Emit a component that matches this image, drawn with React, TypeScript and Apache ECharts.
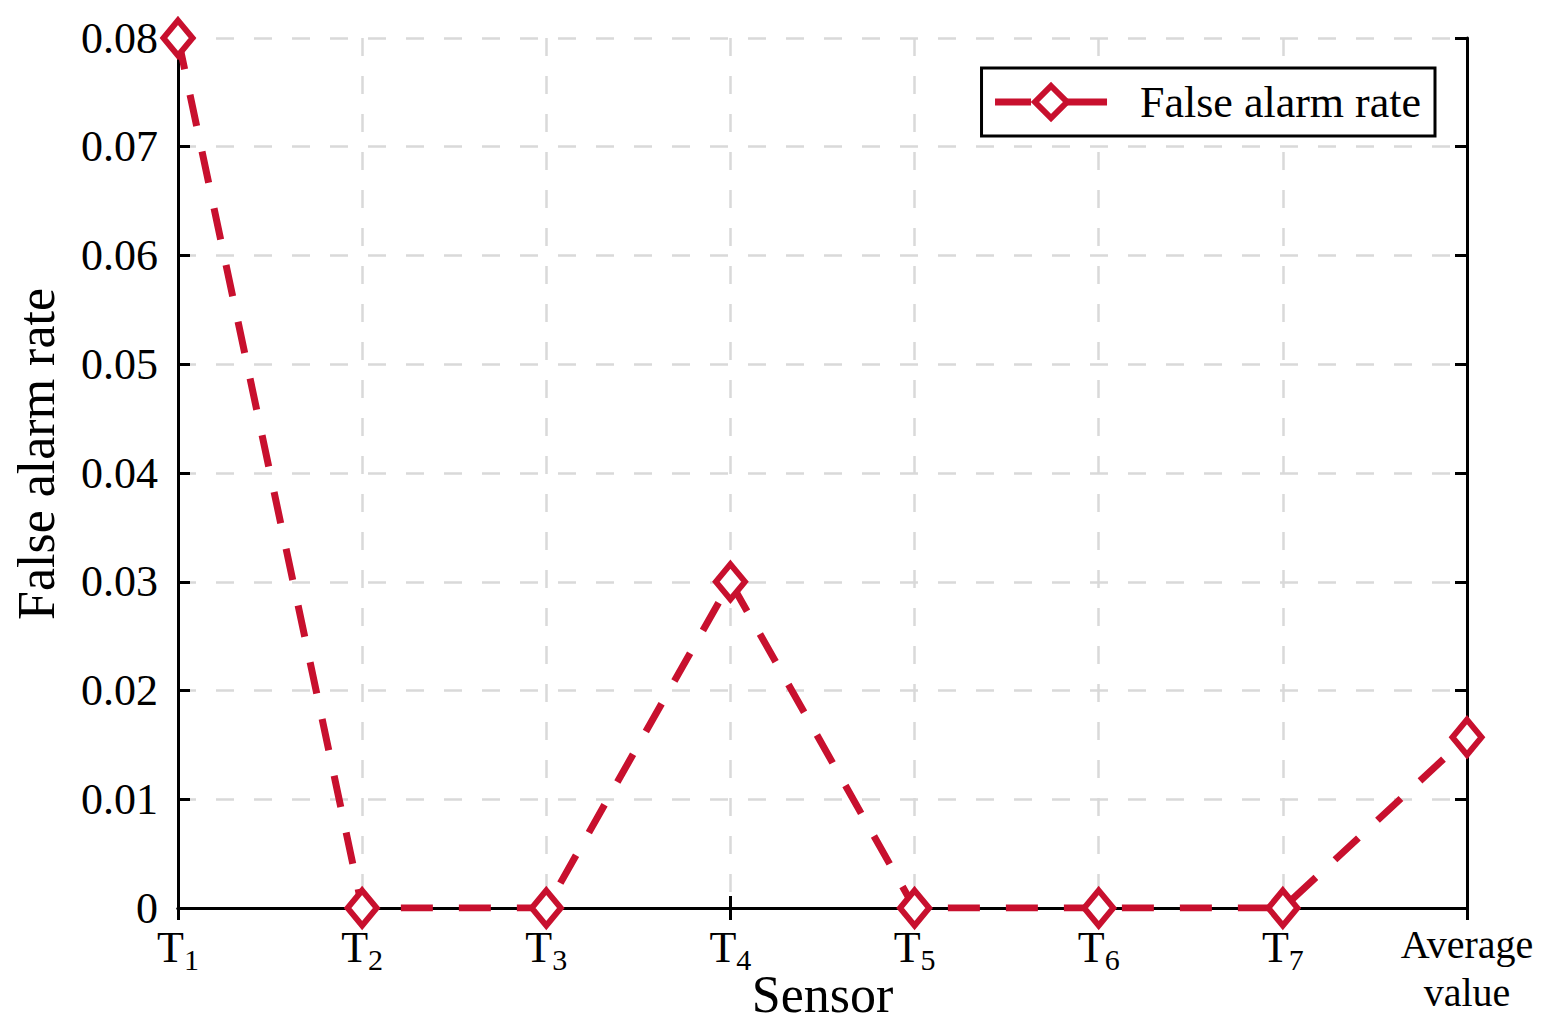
import React, { useEffect, useRef } from "react";
import * as echarts from "echarts";

const categories = ["T1", "T2", "T3", "T4", "T5", "T6", "T7", "Average value"];
const falseAlarmRate = [0.08, 0, 0, 0.03, 0, 0, 0, 0.0157];
const seriesName = "False alarm rate";

const FONT = "Liberation Serif";
const RED = "#C8102E";

function xLabel(v: string) {
  if (v.startsWith("T")) return `{t|T}{s|${v.slice(1)}}`;
  return v
    .split(" ")
    .map((w) => `{a|${w}}`)
    .join("\n");
}

export default function App() {
  const ref = useRef<HTMLDivElement>(null);
  useEffect(() => {
    if (!ref.current) return;
    const chart = echarts.init(ref.current, undefined, { renderer: "svg" });
    const tickStyle = { show: true, inside: true, length: 12, lineStyle: { color: "#000", width: 3 } };
    const lineStyle = { show: true, lineStyle: { color: "#000", width: 3 } };
    const gridLine = { show: true, lineStyle: { color: "#D9D9D9", width: 2.5, type: [18, 20] } };
    chart.setOption({
      animation: false,
      backgroundColor: "#fff",
      grid: { left: 178, right: 80, top: 38, bottom: 122, containLabel: false, outerBoundsMode: "none" },
      legend: {
        show: true,
        right: 112,
        top: 68,
        orient: "horizontal",
        itemWidth: 112,
        itemHeight: 40,
        padding: [12, 14, 12, 10],
        itemGap: 0,
        borderColor: "#000",
        borderWidth: 3,
        borderRadius: 0,
        backgroundColor: "#fff",
        textStyle: { fontFamily: FONT, fontSize: 44, color: "#000", padding: [0, 0, 0, 28] },
        data: [{ name: seriesName, lineStyle: { width: 7, type: [36, 12, 70, 0] }, itemStyle: { borderWidth: 6 } }],
      },
      xAxis: [
        {
          type: "category",
          data: categories,
          boundaryGap: false,
          position: "bottom",
          axisLine: lineStyle,
          axisTick: tickStyle,
          splitLine: gridLine,
          axisLabel: {
            margin: 12,
            color: "#000",
            fontFamily: FONT,
            formatter: xLabel,
            rich: {
              t: { fontFamily: FONT, fontSize: 44, color: "#000" },
              s: { fontFamily: FONT, fontSize: 30, color: "#000", padding: [24, 0, 0, 0] },
              a: { fontFamily: FONT, fontSize: 40, color: "#000", lineHeight: 48 },
            },
          },
          name: "Sensor",
          nameLocation: "middle",
          nameGap: 60,
          nameMoveOverlap: false,
          nameTextStyle: { fontFamily: FONT, fontSize: 52, color: "#000" },
        },
        {
          type: "category",
          data: categories,
          boundaryGap: false,
          position: "top",
          axisLine: lineStyle,
          axisTick: tickStyle,
          axisLabel: { show: false },
          splitLine: { show: false },
        },
      ],
      yAxis: [
        {
          type: "value",
          min: 0,
          max: 0.08,
          interval: 0.01,
          position: "left",
          axisLine: lineStyle,
          axisTick: tickStyle,
          splitLine: gridLine,
          axisLabel: {
            margin: 20,
            color: "#000",
            fontFamily: FONT,
            fontSize: 44,
            formatter: (v: number) => (v === 0 ? "0" : v.toFixed(2)),
          },
          name: "False alarm rate",
          nameLocation: "middle",
          nameGap: 116,
          nameMoveOverlap: false,
          nameTextStyle: { fontFamily: FONT, fontSize: 52, color: "#000", padding: [0, 0, 0, 38] },
        },
        {
          type: "value",
          min: 0,
          max: 0.08,
          interval: 0.01,
          position: "right",
          axisLine: lineStyle,
          axisTick: tickStyle,
          axisLabel: { show: false },
          splitLine: { show: false },
        },
      ],
      series: [
        {
          name: seriesName,
          type: "line",
          data: falseAlarmRate,
          xAxisIndex: 0,
          yAxisIndex: 0,
          symbol: "diamond",
          symbolSize: [29, 35],
          showAllSymbol: true,
          lineStyle: { color: RED, width: 7, type: [32, 26] },
          itemStyle: { color: "#fff", borderColor: RED, borderWidth: 6 },
          z: 5,
        },
      ],
    });
    return () => chart.dispose();
  }, []);
  return <div ref={ref} style={{ position: "fixed", left: 0, top: 0, width: 1547, height: 1030 }} />;
}
